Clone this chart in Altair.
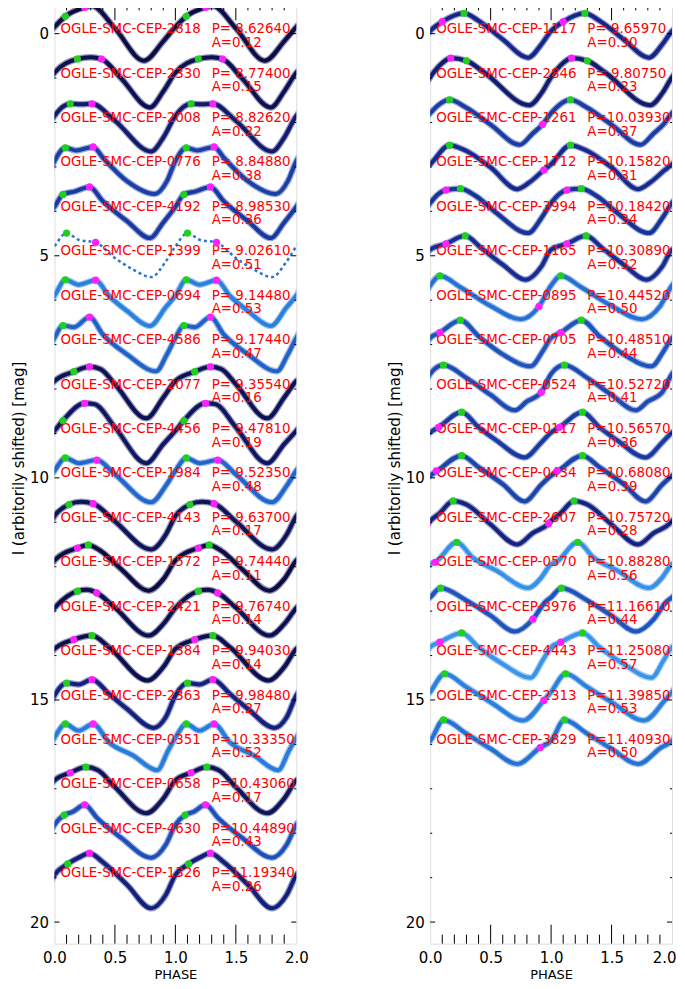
import altair as alt
import pandas as pd

# ---------------- data ----------------
LEFT_NAMES = ["OGLE-SMC-CEP-2818", "OGLE-SMC-CEP-2330", "OGLE-SMC-CEP-2008", "OGLE-SMC-CEP-0776",
              "OGLE-SMC-CEP-4192", "OGLE-SMC-CEP-1399", "OGLE-SMC-CEP-0694", "OGLE-SMC-CEP-4586",
              "OGLE-SMC-CEP-2077", "OGLE-SMC-CEP-4456", "OGLE-SMC-CEP-1984", "OGLE-SMC-CEP-4143",
              "OGLE-SMC-CEP-1572", "OGLE-SMC-CEP-2421", "OGLE-SMC-CEP-1384", "OGLE-SMC-CEP-2363",
              "OGLE-SMC-CEP-0351", "OGLE-SMC-CEP-0658", "OGLE-SMC-CEP-4630", "OGLE-SMC-CEP-1326"]
LEFT_P = [8.62640, 8.77400, 8.82620, 8.84880, 8.98530, 9.02610, 9.14480, 9.17440, 9.35540, 9.47810,
          9.52350, 9.63700, 9.74440, 9.76740, 9.94030, 9.98480, 10.33350, 10.43060, 10.44890, 11.19340]
LEFT_A = [0.12, 0.15, 0.22, 0.38, 0.36, 0.51, 0.53, 0.47, 0.16, 0.19,
          0.48, 0.17, 0.11, 0.14, 0.14, 0.27, 0.52, 0.17, 0.43, 0.26]
LEFT_KNOT_PH = [
    [0, 0.09, 0.25, 0.31, 0.5, 0.74, 0.9],
    [0, 0.19, 0.3, 0.39, 0.55, 0.79, 0.9],
    [0, 0.13, 0.22, 0.31, 0.5, 0.8, 0.9],
    [0, 0.09, 0.18, 0.32, 0.4, 0.6, 0.83, 0.93],
    [0, 0.07, 0.17, 0.29, 0.4, 0.6, 0.79, 0.9],
    [0, 0.1, 0.2, 0.34, 0.5, 0.65, 0.8, 0.92],
    [0, 0.09, 0.2, 0.34, 0.45, 0.6, 0.79, 0.92],
    [0, 0.07, 0.16, 0.29, 0.4, 0.6, 0.84, 0.93],
    [0, 0.16, 0.29, 0.38, 0.5, 0.76, 0.9],
    [0, 0.07, 0.25, 0.33, 0.5, 0.76, 0.9],
    [0, 0.09, 0.2, 0.35, 0.5, 0.8, 0.92],
    [0, 0.12, 0.22, 0.32, 0.5, 0.8, 0.92],
    [0, 0.19, 0.28, 0.38, 0.55, 0.78, 0.9],
    [0, 0.19, 0.27, 0.35, 0.5, 0.78, 0.9],
    [0, 0.16, 0.31, 0.45, 0.77, 0.9],
    [0, 0.1, 0.2, 0.31, 0.45, 0.6, 0.82, 0.92],
    [0, 0.09, 0.2, 0.32, 0.45, 0.65, 0.85, 0.94],
    [0, 0.13, 0.26, 0.36, 0.5, 0.76, 0.9],
    [0, 0.08, 0.15, 0.25, 0.35, 0.55, 0.8, 0.92],
    [0, 0.11, 0.2, 0.29, 0.4, 0.6, 0.8, 0.92],
]
LEFT_KNOT_MAG = [
    [-0.15, -0.39, -0.59, -0.62, -0.12, 0.61, 0.17],
    [-0.12, -0.43, -0.47, -0.43, 0.0, 0.66, 0.3],
    [-0.15, -0.42, -0.41, -0.42, -0.04, 0.65, 0.34],
    [-0.13, -0.43, -0.37, -0.45, -0.21, 0.32, 0.61, 0.32],
    [-0.1, -0.38, -0.45, -0.55, -0.23, 0.22, 0.60, 0.25],
    [-0.21, -0.51, -0.36, -0.30, 0.05, 0.31, 0.48, 0.13],
    [-0.1, -0.46, -0.35, -0.45, -0.1, 0.24, 0.58, 0.16],
    [-0.15, -0.43, -0.39, -0.62, -0.23, 0.22, 0.60, 0.22],
    [-0.18, -0.39, -0.50, -0.45, -0.11, 0.66, 0.19],
    [-0.06, -0.29, -0.68, -0.66, -0.14, 0.67, 0.24],
    [-0.16, -0.45, -0.33, -0.40, -0.08, 0.55, 0.18],
    [-0.14, -0.40, -0.46, -0.42, -0.02, 0.61, 0.28],
    [-0.14, -0.42, -0.49, -0.36, 0.05, 0.54, 0.28],
    [-0.07, -0.45, -0.48, -0.41, -0.08, 0.55, 0.29],
    [-0.15, -0.36, -0.45, -0.19, 0.56, 0.26],
    [-0.1, -0.38, -0.35, -0.46, -0.14, 0.2, 0.63, 0.39],
    [-0.15, -0.46, -0.31, -0.46, -0.05, 0.25, 0.58, 0.14],
    [-0.19, -0.36, -0.49, -0.42, -0.04, 0.55, 0.22],
    [-0.19, -0.41, -0.48, -0.64, -0.35, 0.10, 0.55, 0.26],
    [-0.06, -0.31, -0.45, -0.55, -0.35, 0.16, 0.69, 0.39],
]
LEFT_GREEN_PH = [1.09, 1.19, 1.13, 1.09, 1.07, 1.10, 1.09, 1.07, 1.16, 1.07,
                 1.09, 1.12, 1.28, 1.19, 1.31, 1.10, 1.09, 1.26, 1.08, 1.11]
LEFT_GREEN_MAG = [-0.39, -0.43, -0.42, -0.43, -0.38, -0.51, -0.46, -0.43, -0.39, -0.29,
                  -0.45, -0.40, -0.49, -0.45, -0.45, -0.38, -0.46, -0.49, -0.41, -0.31]
LEFT_MAGENTA_PH = [1.25, 1.39, 1.31, 1.32, 1.29, 1.34, 1.34, 1.29, 1.29, 1.25,
                   1.35, 1.32, 1.19, 1.35, 1.16, 1.31, 1.32, 1.13, 1.25, 1.29]
LEFT_MAGENTA_MAG = [-0.59, -0.43, -0.42, -0.45, -0.55, -0.30, -0.45, -0.62, -0.50, -0.68,
                    -0.40, -0.42, -0.42, -0.41, -0.36, -0.46, -0.46, -0.36, -0.64, -0.55]

RIGHT_NAMES = ["OGLE-SMC-CEP-1117", "OGLE-SMC-CEP-2846", "OGLE-SMC-CEP-1261", "OGLE-SMC-CEP-1712",
               "OGLE-SMC-CEP-3994", "OGLE-SMC-CEP-1165", "OGLE-SMC-CEP-0895", "OGLE-SMC-CEP-0705",
               "OGLE-SMC-CEP-0524", "OGLE-SMC-CEP-0117", "OGLE-SMC-CEP-0434", "OGLE-SMC-CEP-2607",
               "OGLE-SMC-CEP-0570", "OGLE-SMC-CEP-3976", "OGLE-SMC-CEP-4443", "OGLE-SMC-CEP-2313",
               "OGLE-SMC-CEP-3829"]
RIGHT_P = [9.65970, 9.80750, 10.03930, 10.15820, 10.18420, 10.30890, 10.44520, 10.48510, 10.52720,
           10.56570, 10.68080, 10.75720, 10.88280, 11.16610, 11.25080, 11.39850, 11.40930]
RIGHT_A = [0.30, 0.23, 0.37, 0.31, 0.34, 0.32, 0.50, 0.44, 0.41,
           0.36, 0.39, 0.28, 0.56, 0.44, 0.57, 0.53, 0.50]
RIGHT_KNOT_PH = [
    [0, 0.1, 0.28, 0.4, 0.6, 0.81, 0.92],
    [0, 0.1, 0.17, 0.3, 0.45, 0.82, 0.92],
    [0, 0.16, 0.3, 0.5, 0.74, 0.85, 0.93],
    [0, 0.16, 0.3, 0.5, 0.72, 0.82, 0.94],
    [0, 0.13, 0.25, 0.38, 0.55, 0.81, 0.92],
    [0, 0.13, 0.29, 0.42, 0.6, 0.79, 0.92],
    [0, 0.08, 0.25, 0.5, 0.75, 0.9],
    [0, 0.08, 0.25, 0.4, 0.6, 0.83, 0.93],
    [0, 0.11, 0.3, 0.5, 0.7, 0.8, 0.92],
    [0, 0.07, 0.26, 0.4, 0.55, 0.78, 0.92],
    [0, 0.06, 0.26, 0.4, 0.6, 0.78, 0.92],
    [0, 0.08, 0.19, 0.3, 0.5, 0.72, 0.85, 0.98],
    [0, 0.04, 0.22, 0.35, 0.55, 0.81, 0.92],
    [0, 0.085, 0.3, 0.5, 0.7, 0.85, 0.95],
    [0, 0.08, 0.26, 0.4, 0.6, 0.83, 0.93],
    [0, 0.12, 0.3, 0.5, 0.77, 0.94],
    [0, 0.11, 0.3, 0.5, 0.72, 0.91],
]
RIGHT_KNOT_MAG = [
    [-0.06, -0.27, -0.46, -0.29, 0.13, 0.54, 0.24],
    [-0.02, -0.34, -0.45, -0.39, -0.12, 0.61, 0.34],
    [-0.21, -0.51, -0.33, 0.05, 0.5, 0.24, 0.04],
    [-0.06, -0.49, -0.36, 0.01, 0.5, 0.35, 0.07],
    [-0.19, -0.48, -0.51, -0.34, 0.04, 0.49, 0.15],
    [-0.14, -0.27, -0.45, -0.18, 0.2, 0.54, 0.24],
    [-0.33, -0.55, -0.29, 0.13, 0.43, 0.14],
    [-0.15, -0.27, -0.55, -0.19, 0.22, 0.49, 0.15],
    [-0.34, -0.54, -0.25, 0.13, 0.48, 0.28, 0.07],
    [-0.02, -0.14, -0.48, -0.14, 0.16, 0.54, 0.2],
    [-0.05, -0.16, -0.50, -0.24, 0.14, 0.53, 0.15],
    [-0.03, -0.21, -0.48, -0.40, 0.05, 0.5, 0.24, 0.03],
    [-0.06, -0.10, -0.55, -0.21, 0.09, 0.48, 0.24],
    [-0.31, -0.52, -0.24, 0.1, 0.46, 0.18, -0.2],
    [-0.19, -0.30, -0.51, -0.19, 0.19, 0.5, 0.11],
    [-0.18, -0.59, -0.29, 0.05, 0.46, 0.01],
    [-0.08, -0.55, -0.24, 0.1, 0.44, 0.07],
]
RIGHT_GREEN_PH = [1.28, 1.30, 1.16, 1.16, 1.25, 1.29, 1.08, 1.25, 1.11,
                  1.26, 1.26, 1.19, 1.22, 1.085, 1.26, 1.12, 1.11]
RIGHT_GREEN_MAG = [-0.46, -0.39, -0.51, -0.49, -0.51, -0.45, -0.55, -0.55, -0.54,
                   -0.48, -0.50, -0.48, -0.55, -0.52, -0.51, -0.59, -0.55]
RIGHT_MAGENTA_PH = [1.10, 1.17, 0.93, 0.94, 1.13, 1.13, 0.90, 1.08, 0.92,
                    1.07, 1.05, 0.98, 0.04, 0.85, 1.08, 0.94, 0.91]
RIGHT_MAGENTA_MAG = [-0.27, -0.45, 0.04, 0.07, -0.48, -0.27, 0.14, -0.27, 0.07,
                     -0.14, -0.16, 0.03, -0.10, 0.18, -0.30, 0.01, 0.07]

SPARSE = ["OGLE-SMC-CEP-1399"]

X_LABELS = [0.0, 0.5, 1.0, 1.5, 2.0]
X_MINOR = [0.1, 0.2, 0.3, 0.4, 0.6, 0.7, 0.8, 0.9, 1.1, 1.2, 1.3, 1.4, 1.6, 1.7, 1.8, 1.9]
X_MAJOR = [0.5, 1.0, 1.5]
Y_LABELS = [0, 5, 10, 15, 20]
Y_MINOR = [1, 2, 3, 4, 6, 7, 8, 9, 11, 12, 13, 14, 16, 17, 18, 19]
Y_MAJOR = [0, 5, 10, 15, 20]

# ---------------- layout / style ----------------
W, H = 242, 943
FONT = "DejaVu Sans"
XS = alt.Scale(domain=[0, 2], nice=False, zero=False)
YS = alt.Scale(domain=[-0.727, 20.486], nice=False, zero=False, reverse=True)
CS = alt.Scale(domain=[0.11, 0.3, 0.45, 0.57], range=["#0a0a45", "#14268a", "#1f56c0", "#3a95ea"])
X_TITLE = "PHASE"
Y_TITLE = "I (arbitorily shifted) [mag]"


def x_axis(last_flush):
    kw = dict(values=X_LABELS, format=".1f", ticks=False, tickSize=0, domain=False, grid=False,
              labelFont=FONT, labelFontSize=15, labelColor="black", labelPadding=7,
              labelFlush=False, labelOverlap=False,
              titleFont=FONT, titleFontSize=13, titleFontWeight="normal", titleColor="black",
              titlePadding=3)
    if last_flush:
        kw["labelAlign"] = {"condition": {"test": "datum.value == 2", "value": "right"}, "value": "center"}
        kw["labelOffset"] = {"condition": {"test": "datum.value == 2", "value": 4}, "value": 0}
    return alt.Axis(**kw)


Y_AXIS = alt.Axis(values=Y_LABELS, format="d", ticks=False, tickSize=0, domain=False, grid=False,
                  labelFont=FONT, labelFontSize=15, labelColor="black", labelPadding=6,
                  labelFlush=False, labelOverlap=False,
                  titleFont=FONT, titleFontSize=15, titleFontWeight="normal", titleColor="black",
                  titlePadding=3, titleY=457)


def panel(names, periods, amps, kph, kmag, gph, gmag, mph, mmag, last_flush):
    XA = x_axis(last_flush)
    XE = alt.X("phase:Q", scale=XS, axis=XA, title=X_TITLE)
    YE = alt.Y("mag:Q", scale=YS, axis=Y_AXIS, title=Y_TITLE)

    rows = []
    for i, (n, a, phs, ms) in enumerate(zip(names, amps, kph, kmag)):
        for c in (-1, 0, 1, 2):
            for p, m in zip(phs, ms):
                rows.append({"name": n, "A": a, "phase": p + c, "mag": i + m, "sparse": n in SPARSE})
    curves = pd.DataFrame(rows)
    solid = curves[~curves["sparse"]]
    sparse = curves[curves["sparse"]]

    dots = []
    for i, (g, gm, mp, mm) in enumerate(zip(gph, gmag, mph, mmag)):
        for c in (0, -1):
            dots.append({"kind": "green", "phase": g + c, "mag": i + gm})
            dots.append({"kind": "magenta", "phase": mp + c, "mag": i + mm})
    dots = pd.DataFrame(dots)

    labels = pd.DataFrame({
        "name": names,
        "phase": [0.05] * len(names),
        "mag": [i - 0.1 for i in range(len(names))],
        "pphase": [1.3] * len(names),
        "ptext": ["P=%8.5f" % p for p in periods],
        "atext": ["A=%.2f" % a for a in amps],
        "amag": [i + 0.205 for i in range(len(names))],
    })

    color = alt.Color("A:Q", scale=CS, legend=None)
    fuzz = alt.Chart(solid).mark_line(clip=True, interpolate="monotone", strokeWidth=6.5, opacity=0.45).encode(
        x=XE, y=YE, color=color, detail="name:N")
    core = alt.Chart(solid).mark_line(clip=True, interpolate="monotone", strokeWidth=4).encode(
        x=XE, y=YE, color=color, detail="name:N")
    layers = [fuzz, core]
    if len(sparse):
        layers.append(alt.Chart(sparse).mark_line(clip=True, interpolate="monotone", strokeWidth=2.5,
                                                  strokeDash=[3, 3]).encode(
            x=XE, y=YE, color=color, detail="name:N"))

    txt = dict(align="left", baseline="middle", font=FONT, fontSize=13.4, color="#ff0000")
    XP = alt.X("pphase:Q", scale=XS, axis=XA, title=X_TITLE)
    tname = alt.Chart(labels).mark_text(**txt).encode(x=XE, y=YE, text="name:N")
    tp = alt.Chart(labels).mark_text(**txt).encode(x=XP, y=YE, text="ptext:N")
    ta = alt.Chart(labels).mark_text(**txt).encode(
        x=XP, y=alt.Y("amag:Q", scale=YS, axis=Y_AXIS, title=Y_TITLE), text="atext:N")

    dots_layer = alt.Chart(dots).mark_circle(size=52, opacity=1, clip=True).encode(
        x=XE, y=YE,
        color=alt.Color("kind:N", scale=alt.Scale(domain=["green", "magenta"],
                                                  range=["#1fd01f", "#ff1fff"]), legend=None))

    xminor = pd.DataFrame({"phase": X_MINOR})
    xmajor = pd.DataFrame({"phase": X_MAJOR})
    yminor = pd.DataFrame({"mag": Y_MINOR})
    ymajor = pd.DataFrame({"mag": Y_MAJOR})
    tick = dict(color="black", strokeWidth=1)
    ticks = [
        alt.Chart(xminor).mark_rule(**tick).encode(x=XE, y=alt.value(H), y2=alt.value(H - 9)),
        alt.Chart(xminor).mark_rule(**tick).encode(x=XE, y=alt.value(0), y2=alt.value(9)),
        alt.Chart(xmajor).mark_rule(**tick).encode(x=XE, y=alt.value(H), y2=alt.value(H - 19)),
        alt.Chart(xmajor).mark_rule(**tick).encode(x=XE, y=alt.value(0), y2=alt.value(19)),
        alt.Chart(yminor).mark_rule(**tick).encode(y=YE, x=alt.value(0), x2=alt.value(2)),
        alt.Chart(yminor).mark_rule(**tick).encode(y=YE, x=alt.value(W), x2=alt.value(W - 2)),
        alt.Chart(ymajor).mark_rule(**tick).encode(y=YE, x=alt.value(0), x2=alt.value(5)),
        alt.Chart(ymajor).mark_rule(**tick).encode(y=YE, x=alt.value(W), x2=alt.value(W - 5)),
    ]
    return alt.layer(*layers, tname, tp, ta, dots_layer, *ticks).properties(width=W, height=H)


left = panel(LEFT_NAMES, LEFT_P, LEFT_A, LEFT_KNOT_PH, LEFT_KNOT_MAG,
             LEFT_GREEN_PH, LEFT_GREEN_MAG, LEFT_MAGENTA_PH, LEFT_MAGENTA_MAG, False)
right = panel(RIGHT_NAMES, RIGHT_P, RIGHT_A, RIGHT_KNOT_PH, RIGHT_KNOT_MAG,
              RIGHT_GREEN_PH, RIGHT_GREEN_MAG, RIGHT_MAGENTA_PH, RIGHT_MAGENTA_MAG, True)

chart = alt.hconcat(left, right, spacing=134, bounds="flush").properties(
    padding={"left": 2.5, "top": -8, "right": 0, "bottom": -1}
).configure_view(stroke="black", strokeWidth=1).configure(background="white")

chart.save("out.html", embed_options={"renderer": "svg", "actions": False})
